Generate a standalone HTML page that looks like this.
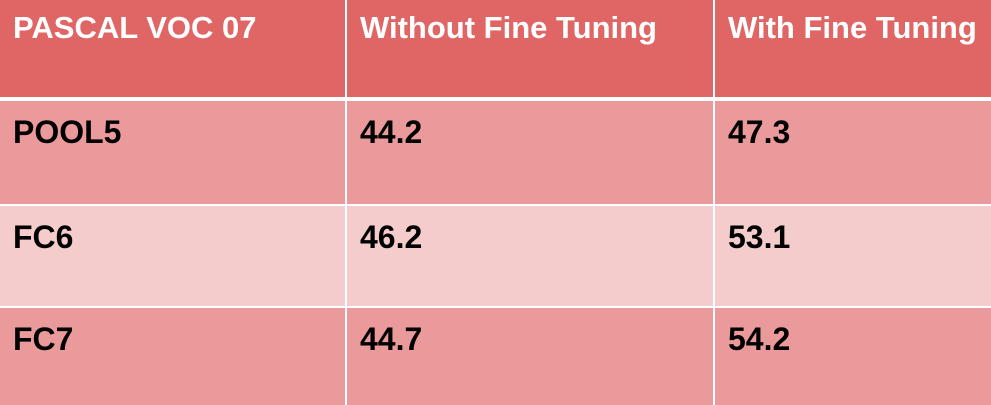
<!DOCTYPE html>
<html><head><meta charset="utf-8"><style>
html,body{margin:0;padding:0;width:991px;height:405px;overflow:hidden;background:#fff;font-family:"Liberation Sans",Arial,sans-serif;font-weight:bold}
.c{position:absolute;box-sizing:border-box;padding-left:13px;font-size:32px;line-height:37px;white-space:nowrap;overflow:hidden}
.h{background:#E06666;color:#fff;font-size:31px;padding-top:9px}
.o{background:#EA9A9A;color:#000}
.e{background:#F4CCCC;color:#000}
.r{padding-top:13px}
</style></head><body>
<div>
<div class="c h" style="left:0;top:0;width:345px;height:97px">PASCAL VOC 07</div>
<div class="c h" style="left:347px;top:0;width:366px;height:97px">Without Fine Tuning</div>
<div class="c h" style="left:715px;top:0;width:276px;height:97px">With Fine Tuning</div>

<div class="c o r" style="left:0;top:101px;width:345px;height:103px">POOL5</div>
<div class="c o r" style="left:347px;top:101px;width:366px;height:103px">44.2</div>
<div class="c o r" style="left:715px;top:101px;width:276px;height:103px">47.3</div>

<div class="c e r" style="left:0;top:206px;width:345px;height:100px">FC6</div>
<div class="c e r" style="left:347px;top:206px;width:366px;height:100px">46.2</div>
<div class="c e r" style="left:715px;top:206px;width:276px;height:100px">53.1</div>

<div class="c o r" style="left:0;top:308px;width:345px;height:97px">FC7</div>
<div class="c o r" style="left:347px;top:308px;width:366px;height:97px">44.7</div>
<div class="c o r" style="left:715px;top:308px;width:276px;height:97px">54.2</div>
</div>
</body></html>
